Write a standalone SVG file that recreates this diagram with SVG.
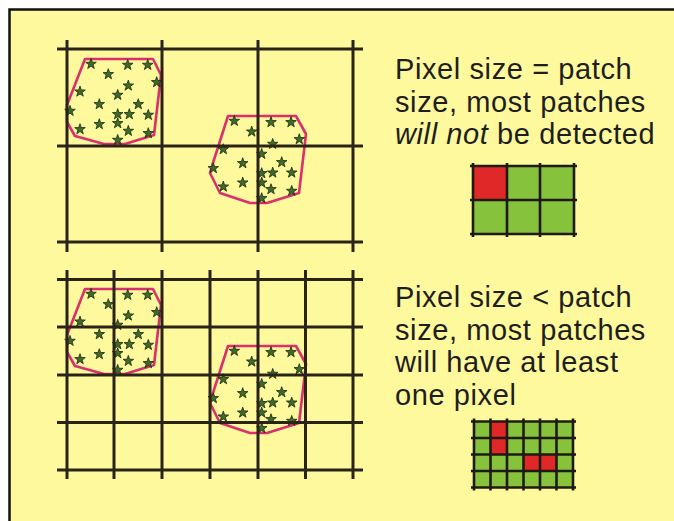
<svg xmlns="http://www.w3.org/2000/svg" xmlns:xlink="http://www.w3.org/1999/xlink" width="674" height="521" viewBox="0 0 674 521">
<style>
.bg{fill:#fef99c}
.frame{stroke:#111;stroke-width:2.5;fill:none}
.grid line{stroke:#2a2418;stroke-width:3}
.patch{fill:none;stroke:#d9306e;stroke-width:2.6;stroke-linejoin:round}
.star{fill:#3f6b2a;stroke:#1c2a12;stroke-width:0.8}
.pg line{stroke:#1e1a12;stroke-width:2.6}
.g{fill:#86c23c}
.r{fill:#e02828}
text{font-family:"Liberation Sans",Arial,sans-serif;font-size:29px;fill:#1e1e1e;letter-spacing:0.6px}
</style>
<defs>
<path id="st" class="star" d="M0,-5.6 L1.3,-1.8 L5.3,-1.7 L2.1,0.7 L3.3,4.5 L0,2.2 L-3.3,4.5 L-2.1,0.7 L-5.3,-1.7 L-1.3,-1.8 Z"/>
<g id="patches">
<polygon class="patch" points="85,59 153,59 161,75 154,135 125,144 104,144 75,136 67,122 67,105"/>
<polygon class="patch" points="228,116 296,116 306,134 299,193 267,203 250,203 220,193 210,173 212,166"/>
<use href="#st" x="91" y="64"/><use href="#st" x="127.7" y="65"/><use href="#st" x="147.7" y="65"/>
<use href="#st" x="108.3" y="74.3"/><use href="#st" x="128.3" y="85.7"/><use href="#st" x="156.7" y="82.3"/>
<use href="#st" x="80" y="91.7"/><use href="#st" x="117.7" y="95"/><use href="#st" x="99.3" y="104.3"/>
<use href="#st" x="138.3" y="104.3"/><use href="#st" x="70" y="111"/><use href="#st" x="117.7" y="114.3"/>
<use href="#st" x="129.3" y="114.3"/><use href="#st" x="148.3" y="115"/><use href="#st" x="99.3" y="124.3"/>
<use href="#st" x="117.7" y="123.3"/><use href="#st" x="128.3" y="131"/><use href="#st" x="148.3" y="133.3"/>
<use href="#st" x="80" y="129.3"/><use href="#st" x="117.7" y="140"/>
<use href="#st" x="234.3" y="121"/><use href="#st" x="271" y="122.3"/><use href="#st" x="291" y="122.3"/>
<use href="#st" x="251.7" y="131.7"/><use href="#st" x="299.3" y="139.3"/><use href="#st" x="272.7" y="144"/>
<use href="#st" x="223.3" y="149.3"/><use href="#st" x="261.7" y="154"/><use href="#st" x="281.7" y="162.3"/>
<use href="#st" x="242.7" y="163.3"/><use href="#st" x="213.3" y="168.3"/><use href="#st" x="291.7" y="172.7"/>
<use href="#st" x="261.7" y="173.3"/><use href="#st" x="272.7" y="172.7"/><use href="#st" x="242.7" y="182.7"/>
<use href="#st" x="261.7" y="182.7"/><use href="#st" x="223.3" y="186.7"/><use href="#st" x="271" y="189.3"/>
<use href="#st" x="291.7" y="191"/><use href="#st" x="261.7" y="198.3"/>
</g>
</defs>
<rect width="674" height="521" fill="#ffffff"/>
<rect class="bg" x="9" y="9" width="665" height="512"/>
<path class="frame" d="M9.5,521 V9.5 H674"/>

<g id="top-panel">
<use href="#patches"/>
<g class="grid">
<line x1="57" y1="49" x2="363" y2="49"/>
<line x1="57" y1="146" x2="363" y2="146"/>
<line x1="57" y1="242" x2="363" y2="242"/>
<line x1="67" y1="40" x2="67" y2="252"/>
<line x1="162" y1="40" x2="162" y2="252"/>
<line x1="258" y1="40" x2="258" y2="252"/>
<line x1="353" y1="40" x2="353" y2="252"/>
</g>
</g>

<g id="bottom-panel">
<use href="#patches" y="230"/>
<g class="grid">
<line x1="57" y1="279.5" x2="363" y2="279.5"/>
<line x1="57" y1="327" x2="363" y2="327"/>
<line x1="57" y1="375" x2="363" y2="375"/>
<line x1="57" y1="422.5" x2="363" y2="422.5"/>
<line x1="57" y1="470" x2="363" y2="470"/>
<line x1="67" y1="270" x2="67" y2="479"/>
<line x1="114" y1="270" x2="114" y2="479"/>
<line x1="162" y1="270" x2="162" y2="479"/>
<line x1="210" y1="270" x2="210" y2="479"/>
<line x1="258" y1="270" x2="258" y2="479"/>
<line x1="305.5" y1="270" x2="305.5" y2="479"/>
<line x1="353" y1="270" x2="353" y2="479"/>
</g>
</g>

<g id="top-text">
<text x="395" y="79">Pixel size = patch</text>
<text x="395" y="111.5">size, most patches</text>
<text x="395" y="144"><tspan font-style="italic">will not</tspan> be detected</text>
</g>

<g id="top-pixels">
<rect class="g" x="473" y="166" width="101" height="68"/>
<rect class="r" x="473" y="166" width="34" height="34"/>
<g class="pg">
<line x1="470" y1="166" x2="577" y2="166"/>
<line x1="470" y1="200" x2="577" y2="200"/>
<line x1="470" y1="234" x2="577" y2="234"/>
<line x1="473" y1="163" x2="473" y2="237"/>
<line x1="507" y1="163" x2="507" y2="237"/>
<line x1="540" y1="163" x2="540" y2="237"/>
<line x1="574" y1="163" x2="574" y2="237"/>
</g>
</g>

<g id="bottom-text">
<text x="395" y="307">Pixel size &lt; patch</text>
<text x="395" y="339.5">size, most patches</text>
<text x="395" y="372">will have at least</text>
<text x="395" y="404.5">one pixel</text>
</g>

<g id="bottom-pixels">
<rect class="g" x="474" y="421.5" width="99" height="66"/>
<rect class="r" x="490.5" y="421.5" width="16.5" height="33"/>
<rect class="r" x="523.5" y="454.5" width="33" height="16.5"/>
<g class="pg">
<line x1="471" y1="421.5" x2="576" y2="421.5"/>
<line x1="471" y1="438" x2="576" y2="438"/>
<line x1="471" y1="454.5" x2="576" y2="454.5"/>
<line x1="471" y1="471" x2="576" y2="471"/>
<line x1="471" y1="487.5" x2="576" y2="487.5"/>
<line x1="474" y1="418.5" x2="474" y2="490.5"/>
<line x1="490.5" y1="418.5" x2="490.5" y2="490.5"/>
<line x1="507" y1="418.5" x2="507" y2="490.5"/>
<line x1="523.5" y1="418.5" x2="523.5" y2="490.5"/>
<line x1="540" y1="418.5" x2="540" y2="490.5"/>
<line x1="556.5" y1="418.5" x2="556.5" y2="490.5"/>
<line x1="573" y1="418.5" x2="573" y2="490.5"/>
</g>
</g>
</svg>
